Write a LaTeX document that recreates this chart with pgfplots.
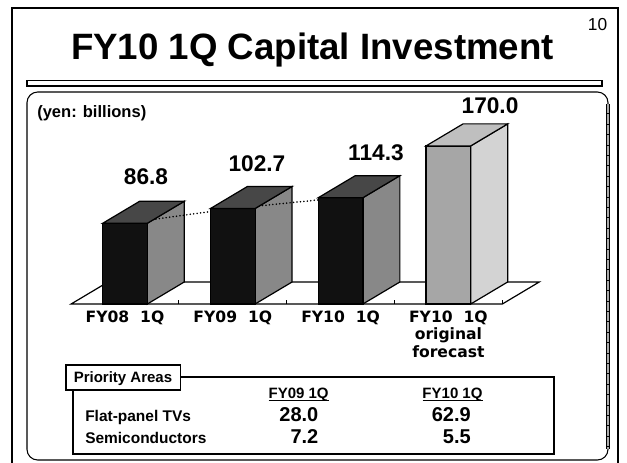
\documentclass[border=0pt]{standalone}
\usepackage{fontspec}
\setmainfont{Liberation Sans}
\newfontfamily\catfont{DejaVu Sans}
\usepackage{pgfplots}
\pgfplotsset{compat=1.18}
\definecolor{barblack}{HTML}{111111}
\definecolor{topdark}{HTML}{474747}
\definecolor{sidegray}{HTML}{888888}
\definecolor{fcfront}{HTML}{A6A6A6}
\definecolor{fctop}{HTML}{BFBFBF}
\definecolor{fcside}{HTML}{D3D3D3}

\begin{document}
\begin{tikzpicture}
% slide frame, title, panel (pixel grid, y down)
\begin{scope}[x=0.75pt,y=-0.75pt]
\useasboundingbox (0,0) rectangle (627,462);
\draw[line width=1.5pt] (12,8) rectangle (618,490);
\node[font=\bfseries\fontsize{27.5}{30}\selectfont, anchor=base, inner sep=0pt] at (312.5,59) {FY10 1Q Capital Investment};
\node[font=\fontsize{13}{14}\selectfont, anchor=base, inner sep=0pt] at (597.5,30) {10};
\draw[line width=0.9pt, fill=white] (27,80.5) rectangle (602,86);
\draw[line width=0.8pt, rounded corners=8pt] (27,92) rectangle (608,460);
\draw[line width=2.4pt, black] (608,104) -- (608,449);
\draw[line width=2.2pt, gray!65, dash pattern=on 7pt off 0.8pt] (608,104) -- (608,449);
\node[font=\bfseries\fontsize{12.4}{14}\selectfont, anchor=base west, inner sep=0pt] at (37,117) {(yen: billions)};
% priority areas table
\draw[line width=1.5pt, fill=white] (73,377.3) rectangle (553.6,454);
\draw[line width=1.1pt, fill=white] (66,365) rectangle (180.4,390);
\node[font=\bfseries\fontsize{11.25}{13}\selectfont, anchor=base, inner sep=0pt] at (123,382) {Priority Areas};
\node[font=\bfseries\fontsize{11.25}{13}\selectfont, anchor=base, inner sep=0pt] at (298.6,398) {FY09 1Q};
\node[font=\bfseries\fontsize{11.25}{13}\selectfont, anchor=base, inner sep=0pt] at (452.5,398) {FY10 1Q};
\draw[line width=0.8pt] (268.6,400.8) -- (328.6,400.8);
\draw[line width=0.8pt] (422.5,400.8) -- (482.5,400.8);
\node[font=\bfseries\fontsize{11.6}{13}\selectfont, anchor=base west, inner sep=0pt] at (85,421) {Flat-panel TVs};
\node[font=\bfseries\fontsize{11.6}{13}\selectfont, anchor=base west, inner sep=0pt] at (85,443) {Semiconductors};
\node[font=\bfseries\fontsize{15}{17}\selectfont, anchor=base east, inner sep=0pt] at (318.6,421.7) {28.0};
\node[font=\bfseries\fontsize{15}{17}\selectfont, anchor=base east, inner sep=0pt] at (471,421.7) {62.9};
\node[font=\bfseries\fontsize{15}{17}\selectfont, anchor=base east, inner sep=0pt] at (318.6,443.3) {7.2};
\node[font=\bfseries\fontsize{15}{17}\selectfont, anchor=base east, inner sep=0pt] at (471,443.3) {5.5};
\end{scope}

\begin{axis}[
    at={(93.75pt,-228pt)}, anchor=origin,
    x=80.85pt, y=0.6975pt,
    xmin=-0.5, xmax=3.5, ymin=0, ymax=210,
    clip=false,
    axis x line*=bottom, axis y line=none,
    x axis line style={draw=none},
    xtick={0,1,2,3},
    xticklabels={FY08\ \ 1Q, FY09\ \ 1Q, FY10\ \ 1Q, FY10\ \ 1Q\\original\\forecast},
    xticklabel style={font=\catfont\bfseries\fontsize{11.7}{13.1}\selectfont,
        align=center, anchor=north, inner sep=0pt, yshift=-5pt},
    major tick length=0pt,
    minor xtick={0.5,1.5,2.5,3.5},
    minor tick length=3pt,
    tick align=inside,
    minor tick style={black, line width=0.7pt},
]
% floor
\addplot[draw=black, line width=0.9pt] coordinates {(-0.5,0) (3.5,0) (3.843,23.7) (-0.157,23.7)} -- cycle;
% side faces
\addplot[draw=black, fill=sidegray, line width=0.9pt] coordinates {(0.207,0) (0.55,23.7) (0.55,110.5) (0.207,86.8)} -- cycle;
\addplot[draw=black, fill=sidegray, line width=0.9pt] coordinates {(1.207,0) (1.55,23.7) (1.55,126.4) (1.207,102.7)} -- cycle;
\addplot[draw=black, fill=sidegray, line width=0.9pt] coordinates {(2.207,0) (2.55,23.7) (2.55,138.0) (2.207,114.3)} -- cycle;
\addplot[draw=black, fill=fcside, line width=0.9pt] coordinates {(3.207,0) (3.55,23.7) (3.55,193.7) (3.207,170.0)} -- cycle;
% trend line
\addplot[black, line width=1.3pt, line cap=round, dash pattern=on 0pt off 2.6pt] coordinates {(0,86.8) (1,102.7) (2,114.3)};
% front faces
\addplot[ybar, bar width=0.414, bar shift=0pt, fill=barblack, draw=black, line width=0.9pt] coordinates {(0,86.8) (1,102.7) (2,114.3)};
\addplot[ybar, bar width=0.414, bar shift=0pt, fill=fcfront, draw=black, line width=0.9pt] coordinates {(3,170.0)};
% top faces
\addplot[draw=black, fill=topdark, line width=0.9pt] coordinates {(-0.207,86.8) (0.136,110.5) (0.55,110.5) (0.207,86.8)} -- cycle;
\addplot[draw=black, fill=topdark, line width=0.9pt] coordinates {(0.793,102.7) (1.136,126.4) (1.55,126.4) (1.207,102.7)} -- cycle;
\addplot[draw=black, fill=topdark, line width=0.9pt] coordinates {(1.793,114.3) (2.136,138.0) (2.55,138.0) (2.207,114.3)} -- cycle;
\addplot[draw=black, fill=fctop, line width=0.9pt] coordinates {(2.793,170.0) (3.136,193.7) (3.55,193.7) (3.207,170.0)} -- cycle;
% value labels
\addplot[draw=none, nodes near coords, point meta=explicit symbolic,
    every node near coord/.append style={anchor=base, inner sep=0pt, text=black,
        font=\bfseries\fontsize{17}{18}\selectfont}]
    coordinates {(0.195,128)[86.8] (1.224,142.3)[102.7] (2.328,154.8)[114.3] (3.386,205)[170.0]};
\end{axis}
\end{tikzpicture}
\end{document}
